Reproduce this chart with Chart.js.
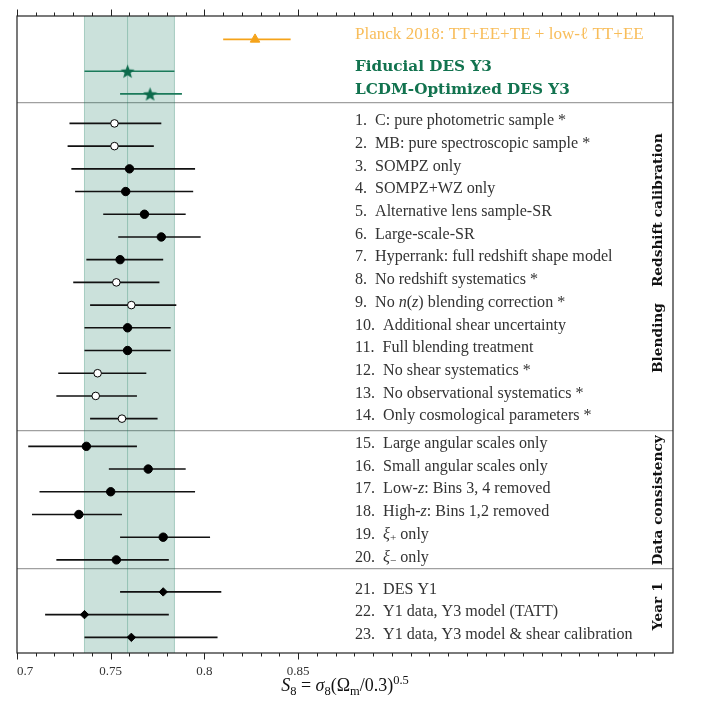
<!DOCTYPE html>
<html>
<head>
<meta charset="utf-8">
<script src="https://cdn.jsdelivr.net/npm/chart.js@4.4.1/dist/chart.umd.min.js"></script>
<style>
  html, body { margin: 0; padding: 0; background: #fff; }
  #wrap { width: 706px; height: 706px; position: relative; }
</style>
</head>
<body>
<div id="wrap"><canvas id="s8Chart"></canvas></div>
<script>
// reference constraints (top block)
const refLabels = ['Planck 2018: TT+EE+TE + low-\u2113 TT+EE', 'Fiducial DES Y3', 'LCDM-Optimized DES Y3'];
const refS8 = [0.827, 0.759, 0.771];
const refLo = [0.810, 0.736, 0.755];
const refHi = [0.846, 0.784, 0.788];

// analysis variants, rows 1..23 ($..$ = math: italic letters, _x subscript)
const rowLabels = [
  '1.  C: pure photometric sample *',
  '2.  MB: pure spectroscopic sample *',
  '3.  SOMPZ only',
  '4.  SOMPZ+WZ only',
  '5.  Alternative lens sample-SR',
  '6.  Large-scale-SR',
  '7.  Hyperrank: full redshift shape model',
  '8.  No redshift systematics *',
  '9.  No $n(z)$ blending correction *',
  '10.  Additional shear uncertainty',
  '11.  Full blending treatment',
  '12.  No shear systematics *',
  '13.  No observational systematics *',
  '14.  Only cosmological parameters *',
  '15.  Large angular scales only',
  '16.  Small angular scales only',
  '17.  Low-$z$: Bins 3, 4 removed',
  '18.  High-$z$: Bins 1,2 removed',
  '19.  $\u03BE_+$ only',
  '20.  $\u03BE_\u2212$ only',
  '21.  DES Y1',
  '22.  Y1 data, Y3 model (TATT)',
  '23.  Y1 data, Y3 model & shear calibration'
];
const rowS8 = [0.752, 0.752, 0.760, 0.758, 0.768, 0.777, 0.755, 0.753, 0.761, 0.759, 0.759, 0.743, 0.742,
  0.756, 0.737, 0.770, 0.750, 0.733, 0.778, 0.753, 0.778, 0.736, 0.761];
const rowLo = [0.728, 0.727, 0.729, 0.731, 0.746, 0.754, 0.737, 0.730, 0.739, 0.736, 0.736, 0.722, 0.721,
  0.739, 0.706, 0.749, 0.712, 0.708, 0.755, 0.721, 0.755, 0.715, 0.736];
const rowHi = [0.777, 0.773, 0.795, 0.794, 0.790, 0.798, 0.778, 0.776, 0.785, 0.782, 0.782, 0.769, 0.764,
  0.775, 0.764, 0.790, 0.795, 0.756, 0.803, 0.781, 0.809, 0.781, 0.807];

const sectionNames = ['Redshift calibration', 'Blending', 'Data consistency', 'Year 1'];
const sectionFirstRow = [1, 9, 15, 21];
const xTickLabels = ['0.7', '0.75', '0.8', '0.85'];

// layout (row units on the y scale)
const refY = [-2.70, -1.30, -0.30];
const gapAfter = { 15: 0.22, 21: 0.63 };
function rowY(k) { return k + (k >= 21 ? gapAfter[21] : k >= 15 ? gapAfter[15] : 0); }
const dividerY = [0.106, 14.51, 20.59];
const sectionLabelY = [4.82, 10.45, 17.6, 22.26];

const SERIF = "'Liberation Serif', serif";
const BOLD = "'DejaVu Serif', serif";
const GREEN = '#12734f';
const ORANGE = '#f5a31a';

function starCanvas(size, color) {
  const c = document.createElement('canvas');
  c.width = size; c.height = size;
  const g = c.getContext('2d');
  const cx = size / 2, cy = size / 2 + size * 0.05, R = size / 2, r = R * 0.42;
  g.beginPath();
  for (let i = 0; i < 10; i++) {
    const a = -Math.PI / 2 + i * Math.PI / 5;
    const rr = i % 2 ? r : R;
    g.lineTo(cx + rr * Math.cos(a), cy + rr * Math.sin(a));
  }
  g.closePath();
  g.fillStyle = color;
  g.fill();
  return c;
}
const starImg = starCanvas(15, '#0d6b4c');

// split "$..$" markup into drawable runs
function runs(text) {
  const out = [];
  text.split('$').forEach((chunk, k) => {
    if (k % 2 === 0) { if (chunk) out.push({ t: chunk, it: false, sub: false }); return; }
    for (let i = 0; i < chunk.length; i++) {
      const ch = chunk[i];
      if (ch === '_') { out.push({ t: chunk[++i], it: false, sub: true }); continue; }
      out.push({ t: ch, it: /\p{L}/u.test(ch), sub: false });
    }
  });
  return out;
}
function drawRich(ctx, text, x, y, size) {
  runs(text).forEach(r => {
    const sz = r.sub ? size * 0.7 : size;
    ctx.font = (r.it ? 'italic ' : '') + sz + 'px ' + SERIF;
    ctx.fillText(r.t, x, y + (r.sub ? size * 0.22 : 0));
    x += ctx.measureText(r.t).width;
  });
}
// font size giving the text the width it has in the reference
function fitSize(ctx, text, style, family, target) {
  ctx.font = style + ' 20px ' + family;
  return 20 * target / ctx.measureText(text).width;
}

const datasets = [];
// error bars
refS8.forEach((v, i) => {
  datasets.push({
    type: 'line', order: 2,
    data: [{ x: refLo[i], y: refY[i] }, { x: refHi[i], y: refY[i] }],
    borderColor: i === 0 ? ORANGE : '#1b7a5a', borderWidth: 1.6, pointRadius: 0
  });
});
rowS8.forEach((v, i) => {
  const y = rowY(i + 1);
  datasets.push({
    type: 'line', order: 2,
    data: [{ x: rowLo[i], y }, { x: rowHi[i], y }],
    borderColor: '#111', borderWidth: 1.6, pointRadius: 0
  });
});
// markers
const isOpen = rowLabels.map(l => l.trim().endsWith('*'));
const isY1 = rowLabels.map((l, i) => i + 1 >= sectionFirstRow[3]);
const pts = rowS8.map((v, i) => ({ x: v, y: rowY(i + 1) }));
datasets.push({
  type: 'scatter', order: 1,
  data: pts.filter((p, i) => !isOpen[i] && !isY1[i]),
  pointStyle: 'circle', pointRadius: 4.2, backgroundColor: '#000', borderColor: '#000', borderWidth: 1
});
datasets.push({
  type: 'scatter', order: 1,
  data: pts.filter((p, i) => isOpen[i]),
  pointStyle: 'circle', pointRadius: 3.8, backgroundColor: '#fff', borderColor: '#000', borderWidth: 1
});
datasets.push({
  type: 'scatter', order: 1,
  data: pts.filter((p, i) => isY1[i]),
  pointStyle: 'rectRot', pointRadius: 4.2, backgroundColor: '#000', borderColor: '#000', borderWidth: 1
});
datasets.push({
  type: 'scatter', order: 1,
  data: [{ x: refS8[0], y: refY[0] }],
  pointStyle: 'triangle', pointRadius: 5.5, backgroundColor: ORANGE, borderColor: ORANGE, borderWidth: 1
});
datasets.push({
  type: 'scatter', order: 1,
  data: [{ x: refS8[1], y: refY[1] }, { x: refS8[2], y: refY[2] }],
  pointStyle: starImg, pointRadius: 7
});

const decor = {
  id: 'decor',
  beforeDatasetsDraw(chart) {
    const { ctx, chartArea: a, scales: { x } } = chart;
    const x0 = x.getPixelForValue(refLo[1]), x1 = x.getPixelForValue(refHi[1]);
    const xm = x.getPixelForValue(refS8[1]);
    ctx.save();
    ctx.fillStyle = 'rgba(20,120,90,0.22)';
    ctx.fillRect(x0, a.top, x1 - x0, a.bottom - a.top);
    ctx.strokeStyle = 'rgba(20,120,90,0.30)';
    ctx.lineWidth = 1;
    [x0, x1, xm].forEach(px => {
      ctx.beginPath(); ctx.moveTo(px, a.top); ctx.lineTo(px, a.bottom); ctx.stroke();
    });
    ctx.restore();
  },
  afterDraw(chart) {
    const { ctx, chartArea: a, scales: { x, y } } = chart;
    ctx.save();
    // frame
    ctx.strokeStyle = '#222';
    ctx.lineWidth = 1.2;
    ctx.strokeRect(a.left, a.top, a.right - a.left, a.bottom - a.top);
    // ticks, outward on top and bottom
    ctx.lineWidth = 1;
    for (let i = 0; i <= 34; i++) {
      const v = 0.70 + i * 0.01;
      const px = Math.round(x.getPixelForValue(v)) + 0.5;
      const major = i % 5 === 0 && i <= 15;
      const len = major ? 6.5 : 3.5;
      ctx.beginPath();
      ctx.moveTo(px, a.bottom); ctx.lineTo(px, a.bottom + len);
      ctx.moveTo(px, a.top); ctx.lineTo(px, a.top - len);
      ctx.stroke();
    }
    // x tick labels (the first one sits right of its tick)
    ctx.fillStyle = '#333';
    ctx.font = '13px ' + SERIF;
    ctx.textBaseline = 'middle';
    xTickLabels.forEach((t, i) => {
      ctx.textAlign = i === 0 ? 'left' : 'center';
      ctx.fillText(t, x.getPixelForValue(parseFloat(t)), a.bottom + 19);
    });
    // texts
    const tx = x.getPixelForValue(0.8803);
    ctx.textAlign = 'left';
    const pSize = fitSize(ctx, refLabels[0], '', SERIF, 289);
    ctx.font = pSize + 'px ' + SERIF;
    ctx.fillStyle = 'rgba(245,163,26,0.72)';
    ctx.fillText(refLabels[0], tx, y.getPixelForValue(refY[0]) - 5);
    const bSize = fitSize(ctx, refLabels[2], 'bold', BOLD, 215);
    ctx.font = 'bold ' + bSize + 'px ' + BOLD;
    ctx.fillStyle = GREEN;
    ctx.fillText(refLabels[1], tx, y.getPixelForValue(refY[1]) - 4);
    ctx.fillText(refLabels[2], tx, y.getPixelForValue(refY[2]) - 4);
    const rSize = fitSize(ctx, rowLabels[22], '', SERIF, 278);
    ctx.fillStyle = '#333';
    rowLabels.forEach((l, i) => {
      drawRich(ctx, l, tx, y.getPixelForValue(rowY(i + 1)) - 2.5, rSize);
    });
    // section labels, rotated
    const sSize = fitSize(ctx, sectionNames[0], 'bold', BOLD, 154);
    ctx.font = 'bold ' + sSize + 'px ' + BOLD;
    ctx.fillStyle = '#111';
    ctx.textAlign = 'center';
    sectionNames.forEach((s, i) => {
      ctx.save();
      ctx.translate(658, y.getPixelForValue(sectionLabelY[i]));
      ctx.rotate(-Math.PI / 2);
      ctx.fillText(s, 0, 0);
      ctx.restore();
    });
    // x-axis title: S8 = sigma8 (Omega_m / 0.3)^0.5
    const parts = [
      ['S', 'italic 18px', 0], ['8', '12.5px', 4], [' = ', '18px', 0], ['\u03C3', 'italic 18px', 0],
      ['8', '12.5px', 4], ['(\u03A9', '18px', 0], ['m', '12.5px', 4], ['/0.3)', '18px', 0], ['0.5', '12.5px', -7]
    ];
    ctx.textAlign = 'left';
    ctx.textBaseline = 'alphabetic';
    let w = 0;
    parts.forEach(p => { ctx.font = p[1] + ' ' + SERIF; w += ctx.measureText(p[0]).width; });
    let cx = 345 - w / 2;
    const base = 691;
    ctx.fillStyle = '#111';
    parts.forEach(p => {
      ctx.font = p[1] + ' ' + SERIF;
      ctx.fillText(p[0], cx, base + p[2]);
      cx += ctx.measureText(p[0]).width;
    });
    ctx.restore();
  }
};

Chart.defaults.font.family = SERIF;
new Chart(document.getElementById('s8Chart'), {
  type: 'scatter',
  data: { datasets },
  options: {
    responsive: true,
    maintainAspectRatio: false,
    animation: false,
    layout: { padding: { left: 17, right: 33, top: 16, bottom: 26 } },
    scales: {
      x: {
        type: 'linear', min: 0.7, max: 1.05,
        afterBuildTicks: s => { s.ticks = xTickLabels.map(t => ({ value: parseFloat(t) })); },
        afterFit: s => { s.height = 27; },
        grid: { display: false, drawTicks: false },
        border: { display: false },
        ticks: { display: false }
      },
      y: {
        type: 'linear', reverse: true, min: -3.73, max: 24.32,
        afterBuildTicks: s => { s.ticks = dividerY.map(v => ({ value: v })); },
        afterFit: s => { s.width = 0; },
        grid: { color: '#a0a0a0', lineWidth: 1.3, drawTicks: false },
        border: { display: false },
        ticks: { display: false }
      }
    },
    plugins: { legend: { display: false }, tooltip: { enabled: false } }
  },
  plugins: [decor]
});
</script>
</body>
</html>
